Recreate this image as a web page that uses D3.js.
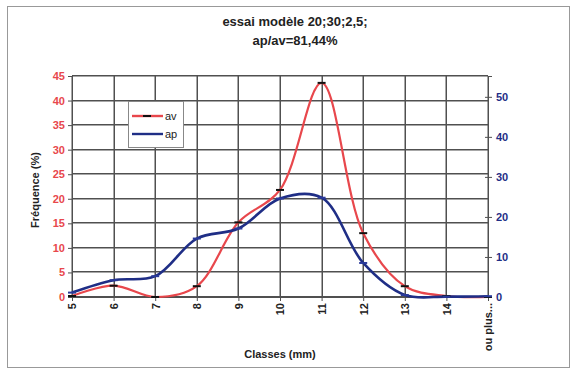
<!DOCTYPE html>
<html><head><meta charset="utf-8">
<script src="https://cdn.jsdelivr.net/npm/d3@7"></script>
<style>
html,body{margin:0;padding:0;background:#fff;}
svg text{font-family:Arial,"Liberation Sans",sans-serif;}
</style></head>
<body><svg id="c" width="573" height="371"></svg>
<script>
const categories = ["5","6","7","8","9","10","11","12","13","14","ou plus..."];
const avValues = [0.2, 2.3, 0.0, 2.2, 15.2, 21.8, 43.6, 13.0, 2.2, 0.2, 0.0];
const apValues = [1.1, 4.2, 5.2, 14.6, 17.1, 24.6, 24.8, 8.5, 0.5, 0.1, 0.2];
const leftTicks = [0,5,10,15,20,25,30,35,40,45];
const rightTicks = [0,10,20,30,40,50];
const titleLines = ["essai modèle 20;30;2,5;", "ap/av=81,44%"];
const seriesNames = ["av", "ap"];

const svg = d3.select("#c");
const L = 72, R = 488, T = 76, B = 297;
const red = "#e8474c", blue = "#1f2e86", gridCol = "#505050";

svg.append("rect").attr("x",7.5).attr("y",6.5).attr("width",562).attr("height",361)
  .attr("fill","none").attr("stroke","#999").attr("stroke-width",1);

const x = d3.scalePoint().domain(categories).range([L, R]);
const yL = d3.scaleLinear().domain([0,45]).range([B, T]);
const yR = d3.scaleLinear().domain([0,55.2]).range([B, T]);

// gridlines as filled rects (2px)
const gridG = svg.append("g");
leftTicks.forEach(t => {
  gridG.append("rect").attr("x", L).attr("y", Math.round(yL(t)) - 1).attr("width", R - L).attr("height", 1.5).attr("fill", gridCol);
});
categories.forEach(c => {
  gridG.append("rect").attr("x", Math.round(x(c)) - 0.5).attr("y", T).attr("width", 1.5).attr("height", B - T).attr("fill", gridCol);
});

// left axis
const la = svg.append("g").attr("transform",`translate(${L},0)`)
  .call(d3.axisLeft(yL).tickValues(leftTicks).tickSize(4).tickPadding(3));
la.select(".domain").attr("stroke",gridCol);
la.selectAll(".tick line").attr("stroke",gridCol);
la.selectAll("text").attr("fill",red).style("font-size","11px").style("font-weight","bold");

// right axis
const ra = svg.append("g").attr("transform",`translate(${R},0)`)
  .call(d3.axisRight(yR).tickValues(rightTicks).tickSize(4).tickPadding(4));
ra.select(".domain").attr("stroke",gridCol);
ra.selectAll(".tick line").attr("stroke",gridCol).attr("x1",-3);
ra.selectAll("text").attr("fill",blue).style("font-size","11px").style("font-weight","bold");

// bottom axis
const ba = svg.append("g").attr("transform",`translate(0,${B})`)
  .call(d3.axisBottom(x).tickSize(4).tickPadding(3));
ba.select(".domain").attr("stroke",gridCol);
ba.selectAll(".tick line").attr("stroke",gridCol);
ba.selectAll("text").attr("fill","#222").style("font-size","11px").style("font-weight","bold")
  .attr("text-anchor","end").attr("dy","0.35em").attr("transform","translate(0,6) rotate(-90)").attr("y",0).attr("x",0);

// lines
const curve = d3.curveCatmullRom.alpha(0.5);
const lineL = d3.line().x((d,i)=>x(categories[i])).y(d=>yL(d)).curve(curve);
const lineR = d3.line().x((d,i)=>x(categories[i])).y(d=>yR(d)).curve(curve);
svg.append("path").attr("d",lineL(avValues)).attr("fill","none").attr("stroke",red).attr("stroke-width",2.2);
svg.append("path").attr("d",lineR(apValues)).attr("fill","none").attr("stroke",blue).attr("stroke-width",2.6);

// markers (dashes)
svg.append("g").selectAll("line").data(avValues).join("line")
  .attr("x1",(d,i)=>x(categories[i])-4).attr("x2",(d,i)=>x(categories[i])+4)
  .attr("y1",d=>yL(d)).attr("y2",d=>yL(d)).attr("stroke","#111").attr("stroke-width",2);
svg.append("g").selectAll("line").data(apValues).join("line")
  .attr("x1",(d,i)=>x(categories[i])-4).attr("x2",(d,i)=>x(categories[i])+4)
  .attr("y1",d=>yR(d)).attr("y2",d=>yR(d)).attr("stroke","#2a3a9a").attr("stroke-width",2);

// legend
const lg = svg.append("g");
lg.append("rect").attr("x",128.5).attr("y",101.5).attr("width",55).attr("height",46)
  .attr("fill","#fff").attr("stroke","#888");
const lc = [red, blue];
seriesNames.forEach((n,i)=>{
  const yy = 116 + i*18;
  lg.append("line").attr("x1",132).attr("x2",163).attr("y1",yy).attr("y2",yy).attr("stroke",lc[i]).attr("stroke-width",2.4);
  if(i===0) lg.append("line").attr("x1",143).attr("x2",151).attr("y1",yy).attr("y2",yy).attr("stroke","#111").attr("stroke-width",2);
  lg.append("text").attr("x",165).attr("y",yy).attr("dy","0.35em").text(n)
    .style("font-size","11px").attr("fill","#222");
});

// titles
svg.append("g").selectAll("text").data(titleLines).join("text")
  .attr("x",295).attr("y",(d,i)=>26+i*19).attr("text-anchor","middle")
  .style("font-size","13px").style("font-weight","bold").attr("fill","#222").text(d=>d);
svg.append("text").attr("transform","translate(39,190) rotate(-90)").attr("text-anchor","middle")
  .style("font-size","11px").style("font-weight","bold").attr("fill","#222").text("Fréquence (%)");
svg.append("text").attr("x",280).attr("y",358).attr("text-anchor","middle")
  .style("font-size","11px").style("font-weight","bold").attr("fill","#222").text("Classes (mm)");
</script></body></html>
